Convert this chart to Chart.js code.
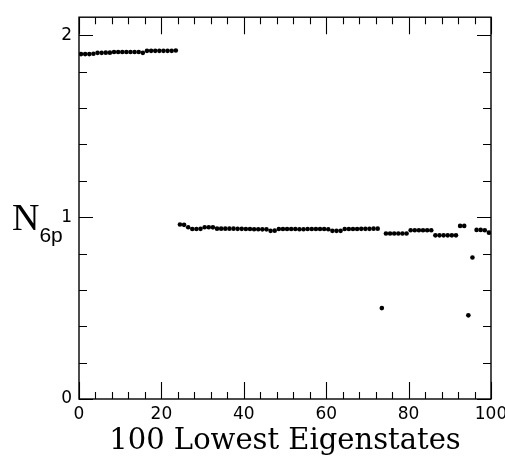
<!DOCTYPE html>
<html lang="en">
<head>
  <meta charset="UTF-8" />
  <title>N6p of the 100 lowest eigenstates</title>
  <script src="https://cdn.jsdelivr.net/npm/chart.js"></script>
  <style>
    html, body { margin: 0; padding: 0; background: #fff; }
    #wrap { width: 505px; height: 461px; }
  </style>
</head>
<body>
  <div id="wrap"><canvas id="myChart" width="505" height="461"></canvas></div>
  <script>
    // N_6p for each of the 100 lowest eigenstates
    const occupation = [
      1.897, 1.897, 1.897, 1.899, 1.904, 1.904, 1.905, 1.905, 1.909, 1.909,
      1.909, 1.909, 1.909, 1.909, 1.909, 1.904, 1.915, 1.915, 1.915, 1.915,
      1.915, 1.915, 1.915, 1.917,
      0.960, 0.958, 0.945, 0.935, 0.935, 0.936, 0.945, 0.945, 0.944, 0.937,
      0.937, 0.937, 0.937, 0.937, 0.936, 0.936, 0.935, 0.935, 0.934, 0.934,
      0.933, 0.933, 0.925, 0.926, 0.935, 0.935, 0.935, 0.935, 0.935, 0.934,
      0.934, 0.935, 0.935, 0.935, 0.935, 0.935, 0.934, 0.925, 0.925, 0.925,
      0.935, 0.935, 0.935, 0.935, 0.936, 0.936, 0.936, 0.937, 0.937,
      0.500,
      0.910, 0.910, 0.910, 0.910, 0.910, 0.910,
      0.928, 0.928, 0.928, 0.928, 0.928, 0.928,
      0.900, 0.900, 0.900, 0.900, 0.900, 0.900,
      0.952, 0.952,
      0.460, 0.778,
      0.930, 0.930, 0.928, 0.915
    ];
    const xTickLabels = [0, 20, 40, 60, 80, 100];
    const yTickLabels = [0, 1, 2];
    const xTitle = '100 Lowest Eigenstates';
    const yTitleMain = 'N';
    const yTitleSub = '6p';

    const points = occupation.map((v, i) => ({ x: i + 0.5, y: v }));

    // frame, inward ticks on all four sides, and the N_6p label
    const frameTicks = {
      id: 'frameTicks',
      afterDatasetsDraw(chart) {
        const { ctx, chartArea: a, scales: { x, y } } = chart;
        ctx.save();
        ctx.strokeStyle = '#000';
        ctx.lineWidth = 1.4;
        ctx.strokeRect(a.left, a.top, a.right - a.left, a.bottom - a.top);
        ctx.beginPath();
        ctx.lineWidth = 1.1;
        for (let v = 0; v <= 100; v += 4) {
          const px = Math.round(x.getPixelForValue(v)) + 0.5;
          const len = v % 20 === 0 ? 17 : 7;
          ctx.moveTo(px, a.bottom); ctx.lineTo(px, a.bottom - len);
          ctx.moveTo(px, a.top); ctx.lineTo(px, a.top + len);
        }
        for (let k = 0; k <= 10; k++) {
          const py = Math.round(y.getPixelForValue(k / 5)) + 0.5;
          const len = k % 5 === 0 ? 14 : 8;
          ctx.moveTo(a.left, py); ctx.lineTo(a.left + len, py);
          ctx.moveTo(a.right, py); ctx.lineTo(a.right - len, py);
        }
        ctx.stroke();

        ctx.fillStyle = '#000';
        ctx.textBaseline = 'alphabetic';
        ctx.font = '38px "Liberation Serif"';
        ctx.fillText(yTitleMain, 12, 230);
        const w = ctx.measureText(yTitleMain).width;
        ctx.font = '21px "Liberation Sans"';
        ctx.fillText(yTitleSub, 12 + w, 242);
        ctx.restore();
      }
    };

    new Chart(document.getElementById('myChart'), {
      type: 'scatter',
      data: {
        datasets: [{
          data: points,
          backgroundColor: '#000',
          borderColor: '#000',
          pointRadius: 2.3,
          pointBorderWidth: 0,
          pointHoverRadius: 2.3
        }]
      },
      options: {
        responsive: false,
        animation: false,
        events: [],
        layout: { padding: { top: 12, right: 14, left: 0, bottom: 0 } },
        plugins: { legend: { display: false }, tooltip: { enabled: false } },
        scales: {
          x: {
            type: 'linear',
            min: 0,
            max: 100,
            grid: { display: false, drawTicks: false },
            border: { display: false },
            afterBuildTicks: s => { s.ticks = xTickLabels.map(v => ({ value: v })); },
            afterFit: s => { s.height = 62; s.paddingLeft = 0; s.paddingRight = 0; },
            ticks: {
              padding: 5,
              color: '#000',
              maxRotation: 0,
              autoSkip: false,
              font: { family: 'DejaVu Sans', size: 17 }
            },
            title: {
              display: true,
              text: xTitle,
              color: '#000',
              padding: { top: 0, bottom: 2 },
              font: { family: 'DejaVu Serif', size: 29 }
            }
          },
          y: {
            type: 'linear',
            min: 0,
            max: 2.1,
            grid: { display: false, drawTicks: false },
            border: { display: false },
            afterBuildTicks: s => { s.ticks = yTickLabels.map(v => ({ value: v })); },
            afterFit: s => { s.width = 79; },
            ticks: {
              padding: 7,
              color: '#000',
              font: { family: 'DejaVu Sans', size: 17 }
            }
          }
        }
      },
      plugins: [frameTicks]
    });
  </script>
</body>
</html>
